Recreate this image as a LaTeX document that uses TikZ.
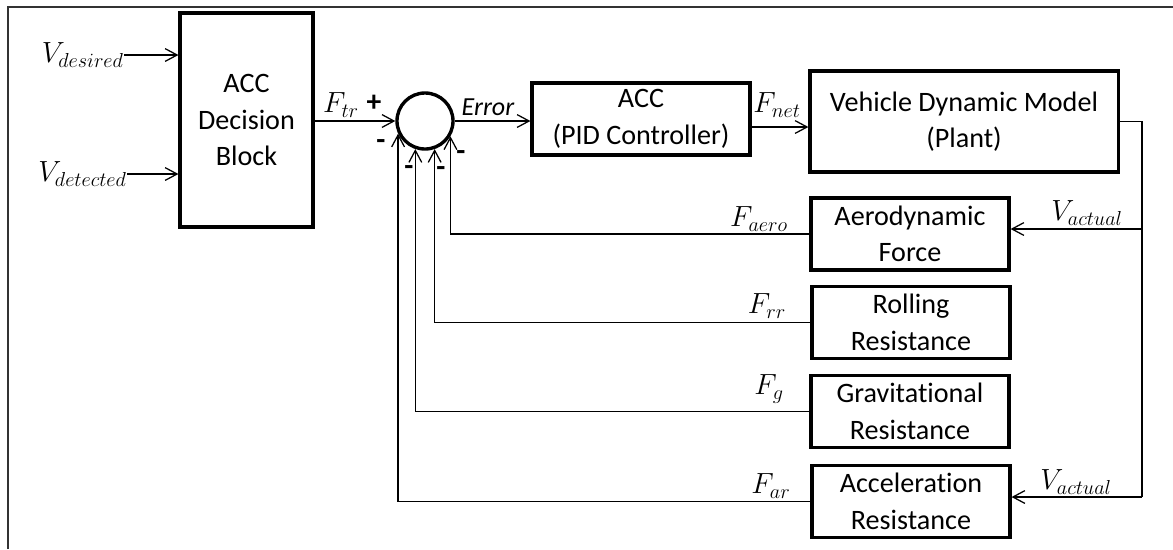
\documentclass[tikz,border=0pt]{standalone}
\usepackage{fontspec}
\setmainfont{Carlito}[Ligatures={NoCommon}]
\usetikzlibrary{arrows.meta}

\begin{document}
\begin{tikzpicture}[x=0.025cm, y=-0.025cm,
  font=\fontsize{20}{26}\selectfont, >={Straight Barb[length=3mm,width=3.2mm]},
  blk/.style={draw, line width=2.2pt, align=center, inner sep=2pt},
  res/.style={blk, minimum width=4.95cm, minimum height=1.8cm},
  sumc/.style={draw, circle, line width=2.4pt, minimum size=1.4cm, inner sep=0pt},
  sgn/.style={font=\bfseries\fontsize{21}{21}\selectfont, inner sep=0pt},
  lbl/.style={inner sep=0pt, font=\fontsize{21.5}{21.5}\selectfont},
  wire/.style={line width=0.9pt},
  arr/.style={wire, ->}]
  \useasboundingbox (0,0) rectangle (1173,549);
  \draw[line width=1.1pt, black!80] (8,549) -- (8,7) -- (1173,7);
  \node[blk, minimum width=3.325cm, minimum height=5.35cm] (dec) at (246.5,120) {ACC\\Decision\\Block};
  \node[sumc] (sum) at (425,121) {};
  \node[blk, minimum width=5.45cm, minimum height=1.8cm] (pid) at (641,119) {ACC\\(PID Controller)};
  \node[blk, minimum width=7.7cm, minimum height=2.525cm] (plant) at (964,121.5) {Vehicle Dynamic Model\\(Plant)};
  \node[res] (aero) at (910,234) {Aerodynamic\\Force};
  \node[res] (rr)   at (911,322.5) {Rolling\\Resistance};
  \node[res] (grav) at (910,411.5) {Gravitational\\Resistance};
  \node[res] (acc)  at (911,501.5) {Acceleration\\Resistance};
  \node[lbl, anchor=east] (vdes) at (124,55) {$V_{desired}$};
  \node[lbl, anchor=east] (vdet) at (127,174) {$V_{detected}$};
  \node[lbl] (ftr)   at (341,105) {$F_{tr}$};
  \node[lbl, font=\fontsize{18.5}{18.5}\selectfont] (err) at (488,107) {\textit{Error}};
  \node[lbl] (fnet)  at (777,105) {$F_{net}$};
  \node[lbl] (vact1) at (1087,213) {$V_{actual}$};
  \node[lbl] (vact2) at (1076,482) {$V_{actual}$};
  \node[lbl] (faero) at (759,219) {$F_{aero}$};
  \node[lbl] (frr)   at (767,306) {$F_{rr}$};
  \node[lbl] (fg)    at (769,389) {$F_{g}$};
  \node[lbl] (far)   at (771,486) {$F_{ar}$};
  \node[sgn] (plus) at (374,103) {+};
  \node[sgn] (m1) at (381,145) {-};
  \node[sgn] (m2) at (409,171) {-};
  \node[sgn] (m3) at (441,172) {-};
  \node[sgn] (m4) at (461,156) {-};
  \coordinate (tap1) at (1142,229);
  \coordinate (tap2) at (1142,497);
  \draw[arr] (vdes.east) -- (vdes.east -| dec.west);
  \draw[arr] (vdet.east) -- (vdet.east -| dec.west);
  \draw[arr] (sum.west -| dec.east) -- (sum.west);
  \draw[arr] (sum.east) -- (sum.east -| pid.west);
  \draw[arr] (pid.east) ++(0,8) -- (plant.west |- 0,127);
  \draw[wire] (plant.east) -| (tap2);
  \draw[arr] (tap1) -- (tap1 -| aero.east);
  \draw[arr] (tap2) -- (tap2 -| acc.east);
  \draw[arr] (aero.west) -| (sum.-31);
  \draw[arr] (rr.west) -| (sum.-71);
  \draw[arr] (grav.west) -| (sum.-109);
  \draw[arr] (acc.west) -| (sum.-155);
\end{tikzpicture}
\end{document}
